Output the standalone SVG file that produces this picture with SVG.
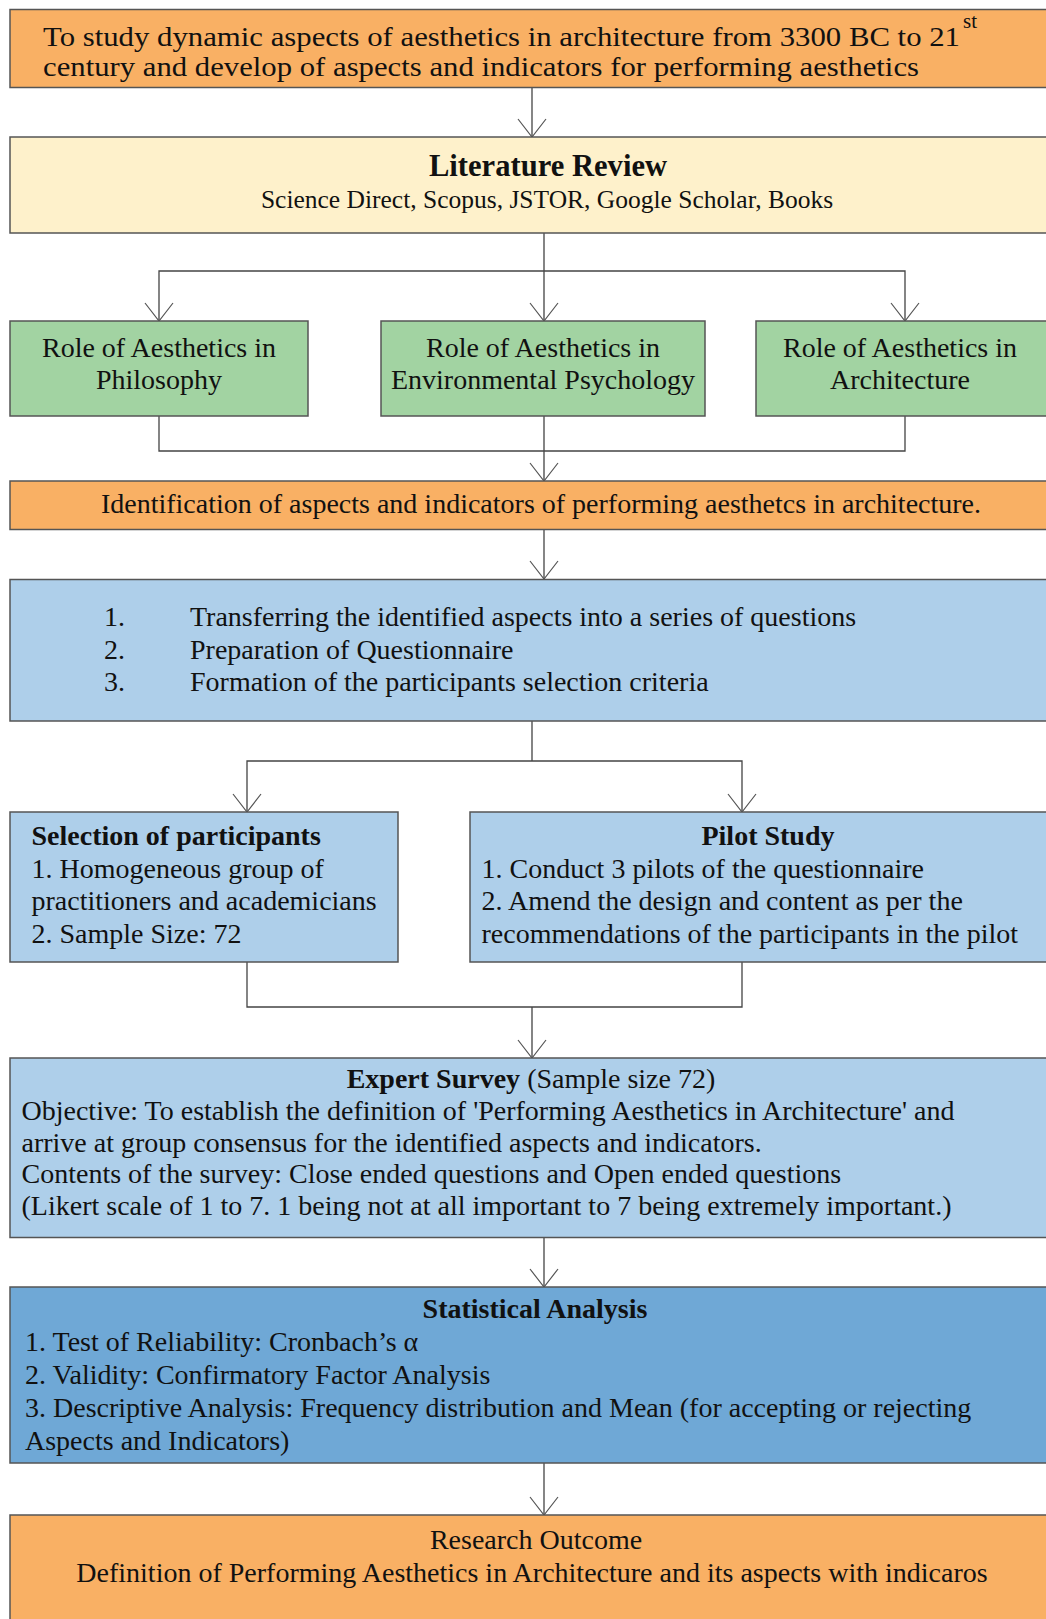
<svg xmlns="http://www.w3.org/2000/svg" width="1046" height="1619" viewBox="0 0 1046 1619">
<style>
text{font-family:"Liberation Serif","Times New Roman",serif;fill:#111;font-size:28px}
.b{font-weight:bold}
.c{text-anchor:middle}
.box{stroke:#555;stroke-width:1.5}
.or{fill:#F9B064}
.ye{fill:#FEF1CB}
.gr{fill:#A2D3A2}
.lb{fill:#AECFEA}
.db{fill:#6FA8D6}
.ln{fill:none;stroke:#444;stroke-width:1.3}
.ah{fill:none;stroke:#555;stroke-width:1.2}
</style>
<defs>
<path id="ah" d="M-14,-18 L0,0 L14,-18" class="ah"/>
</defs>
<rect width="1046" height="1619" fill="#fff"/>

<g id="connectors">
<line class="ln" x1="532" y1="87" x2="532" y2="137"/>
<use href="#ah" x="532" y="137"/>
<path class="ln" d="M544,233 V321 M159,321 V271 H905 V321"/>
<use href="#ah" x="159" y="321"/>
<use href="#ah" x="544" y="321"/>
<use href="#ah" x="905" y="321"/>
<path class="ln" d="M159,416 V451 H905 V416 M544,416 V481"/>
<use href="#ah" x="544" y="481"/>
<line class="ln" x1="544" y1="529" x2="544" y2="579"/>
<use href="#ah" x="544" y="579"/>
<path class="ln" d="M532,721 V761 M247,812 V761 H742 V812"/>
<use href="#ah" x="247" y="812"/>
<use href="#ah" x="742" y="812"/>
<path class="ln" d="M247,962 V1007 H742 V962 M532,1007 V1058"/>
<use href="#ah" x="532" y="1058"/>
<line class="ln" x1="544" y1="1238" x2="544" y2="1287"/>
<use href="#ah" x="544" y="1287"/>
<line class="ln" x1="544" y1="1463" x2="544" y2="1515"/>
<use href="#ah" x="544" y="1515"/>
</g>

<g id="goal">
<rect class="box or" x="10" y="9.5" width="1060" height="78"/>
<text x="43" y="46" style="font-size:27px" textLength="917" lengthAdjust="spacingAndGlyphs">To study dynamic aspects of aesthetics in architecture from 3300 BC to 21</text>
<text x="963" y="28" style="font-size:21px">st</text>
<text x="43" y="76" style="font-size:27px" textLength="876" lengthAdjust="spacingAndGlyphs">century and develop of aspects and indicators for performing aesthetics</text>
</g>

<g id="literature-review">
<rect class="box ye" x="10" y="137" width="1060" height="96"/>
<text class="b c" x="548" y="176" style="font-size:30.6px">Literature Review</text>
<text class="c" x="547" y="208" style="font-size:25.5px">Science Direct, Scopus, JSTOR, Google Scholar, Books</text>
</g>

<g id="role-philosophy">
<rect class="box gr" x="10" y="321" width="298" height="95"/>
<text class="c" x="159" y="357">Role of Aesthetics in</text>
<text class="c" x="159" y="389">Philosophy</text>
</g>

<g id="role-env-psychology">
<rect class="box gr" x="381" y="321" width="324" height="95"/>
<text class="c" x="543" y="357">Role of Aesthetics in</text>
<text class="c" x="543" y="389">Environmental Psychology</text>
</g>

<g id="role-architecture">
<rect class="box gr" x="756" y="321" width="320" height="95"/>
<text class="c" x="900" y="357">Role of Aesthetics in</text>
<text class="c" x="900" y="389">Architecture</text>
</g>

<g id="identification">
<rect class="box or" x="10" y="481" width="1060" height="48.5"/>
<text class="c" x="541" y="513">Identification of aspects and indicators of performing aesthetcs in architecture.</text>
</g>

<g id="questions">
<rect class="box lb" x="10" y="579.5" width="1060" height="141.5"/>
<text x="104" y="626">1.</text>
<text x="190" y="626">Transferring the identified aspects into a series of questions</text>
<text x="104" y="658.5">2.</text>
<text x="190" y="658.5">Preparation of Questionnaire</text>
<text x="104" y="691">3.</text>
<text x="190" y="691">Formation of the participants selection criteria</text>
</g>

<g id="selection">
<rect class="box lb" x="10" y="812" width="388" height="150"/>
<text class="b" x="31.5" y="845">Selection of participants</text>
<text x="31.5" y="877.5">1. Homogeneous group of</text>
<text x="31.5" y="910">practitioners and academicians</text>
<text x="31.5" y="943">2. Sample Size: 72</text>
</g>

<g id="pilot">
<rect class="box lb" x="470" y="812" width="600" height="150"/>
<text class="b c" x="768" y="845">Pilot Study</text>
<text x="481.5" y="877.5">1. Conduct 3 pilots of the questionnaire</text>
<text x="481.5" y="910">2. Amend the design and content as per the</text>
<text x="481.5" y="943">recommendations of the participants in the pilot</text>
</g>

<g id="expert-survey">
<rect class="box lb" x="10" y="1058" width="1060" height="179.5"/>
<text class="c" x="531" y="1088"><tspan class="b">Expert Survey</tspan> (Sample size 72)</text>
<text x="21.5" y="1120">Objective: To establish the definition of 'Performing Aesthetics in Architecture' and</text>
<text x="21.5" y="1151.5">arrive at group consensus for the identified aspects and indicators.</text>
<text x="21.5" y="1183">Contents of the survey: Close ended questions and Open ended questions</text>
<text x="21.5" y="1214.5">(Likert scale of 1 to 7. 1 being not at all important to 7 being extremely important.)</text>
</g>

<g id="statistical-analysis">
<rect class="box db" x="10" y="1287" width="1060" height="176"/>
<text class="b c" x="535" y="1318">Statistical Analysis</text>
<text x="25" y="1351">1. Test of Reliability: Cronbach’s α</text>
<text x="25" y="1384">2. Validity: Confirmatory Factor Analysis</text>
<text x="25" y="1416.5">3. Descriptive Analysis: Frequency distribution and Mean (for accepting or rejecting</text>
<text x="25" y="1449.5">Aspects and Indicators)</text>
</g>

<g id="research-outcome">
<rect class="box or" x="10" y="1515" width="1060" height="120"/>
<text class="c" x="536" y="1548.5">Research Outcome</text>
<text class="c" x="532" y="1581.5">Definition of Performing Aesthetics in Architecture and its aspects with indicaros</text>
</g>
</svg>
